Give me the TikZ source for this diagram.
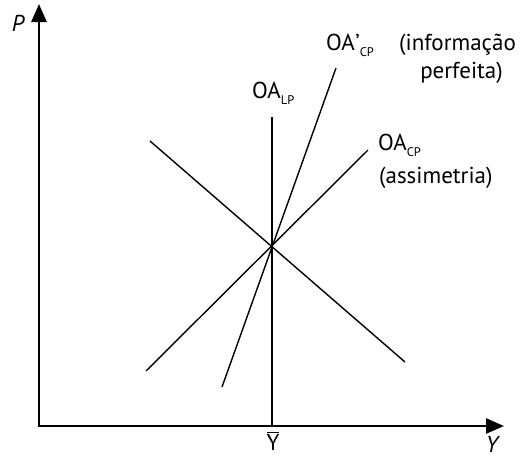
\documentclass[tikz,border=0pt]{standalone}
\usepackage{fontspec}
\setmainfont{PT Sans}
\usetikzlibrary{arrows.meta}
\begin{document}
\begin{tikzpicture}[x=1pt,y=-1pt,
  lbl/.style={inner sep=0pt, font=\fontsize{23}{25}\selectfont},
  curve/.style={line width=1.4pt},
  axis/.style={line width=2.6pt, -{Triangle[length=18pt,width=15pt]}}]
\useasboundingbox (0,0) rectangle (520,458);
\coordinate (O) at (39,426);
\coordinate (ytop) at (39,4);
\coordinate (xend) at (504,426);
\draw[axis] (39,427.3) -- (ytop);
\draw[axis] (37.7,426) -- (xend);
\coordinate (E) at (272,246);
% OA_LP vertical
\coordinate (lpTop) at (272,117);
\coordinate (lpBot) at (272,426);
\draw[curve] (lpTop) -- (lpBot);
% OA'_CP steep
\coordinate (pTop) at (336,68);
\coordinate (pBot) at (222,387);
\draw[curve] (pBot) -- (pTop);
% OA_CP
\coordinate (aTop) at (368,150);
\coordinate (aBot) at (146,371);
\draw[curve] (aBot) -- (aTop);
% descending
\coordinate (dTop) at (150,141);
\coordinate (dBot) at (405,362);
\draw[curve] (dTop) -- (dBot);
% labels
\newcommand{\subx}[1]{\raisebox{-0.28em}{\fontsize{12.5}{13}\selectfont #1}}
\node[lbl] (P) at (18,23) {\itshape P};
\node[lbl] (Yl) at (492,444) {\itshape Y};
\node[lbl] (Ybar) at (273,441) {$\overline{\mbox{Y}}$};
\node[lbl, anchor=base west] (lp) at (252,98) {OA\subx{LP}};
\node[lbl, anchor=base west] (ocp) at (326,50) {OA\kern0.5pt’\subx{CP}};
\node[lbl, anchor=base west] (info) at (399,50) {(informação};
\node[lbl, anchor=base east] (perf) at (503,78) {perfeita)};
\node[lbl, anchor=base west] (acp) at (378,150) {OA\subx{CP}};
\node[lbl, anchor=base west] (asm) at (379,183) {(assimetria)};
\end{tikzpicture}
\end{document}
